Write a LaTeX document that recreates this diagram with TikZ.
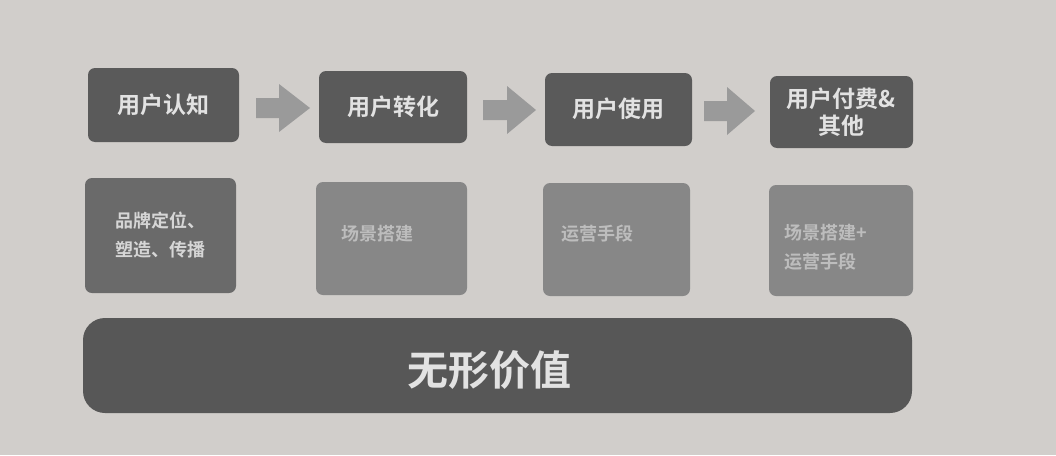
\documentclass[tikz,border=0pt]{standalone}
\usepackage{fontspec}
\setmainfont{Noto Sans CJK SC}[BoldFont={Noto Sans CJK SC Bold}]
\begin{document}
\begin{tikzpicture}[x=1pt,y=-1pt,
  topbox/.style={fill=topc,rounded corners=7pt,inner sep=0pt},
  botbox/.style={fill=botc,rounded corners=7pt,inner sep=0pt},
  toptext/.style={text=toptxt,font=\fontsize{23}{27}\selectfont\bfseries,align=center},
  bottext/.style={text=bottxt,font=\fontsize{18}{29}\selectfont\bfseries,align=left,anchor=west},
  blockarr/.style={fill=arrc}]
\definecolor{bgc}{HTML}{D1CECB}
\definecolor{topc}{HTML}{5A5A5A}
\definecolor{botc}{HTML}{878787}
\definecolor{botd}{HTML}{6A6A6A}
\definecolor{arrc}{HTML}{9A9A9A}
\definecolor{barc}{HTML}{575757}
\definecolor{toptxt}{HTML}{E2E2E2}
\definecolor{bottxt}{HTML}{BDBDBD}
\useasboundingbox (0,0) rectangle (1056,455);
\fill[bgc] (0,0) rectangle (1056,455);
% top boxes
\fill[topbox] (88,68) rectangle (239,142);
\node[toptext] (t1) at (163,105) {用户认知};
\fill[topbox] (319,71) rectangle (467,143);
\node[toptext] (t2) at (393,107) {用户转化};
\fill[topbox] (545,73) rectangle (692,146);
\node[toptext] (t3) at (618,109) {用户使用};
\fill[topbox] (770,76) rectangle (913,148);
\node[toptext] (t4) at (841,112) {用户付费\&\\其他};
% arrows
\newcommand{\blockarrow}[4]{%
  \fill[blockarr] (#1,#4-10) -- (#2,#4-10) -- (#2,#4-24) -- (#3,#4) -- (#2,#4+24) -- (#2,#4+10) -- (#1,#4+10) -- cycle;}
\blockarrow{256}{279}{310}{108}
\blockarrow{483}{507}{536}{110}
\blockarrow{704}{727}{755}{111}
% bottom boxes
\fill[botbox,fill=botd] (85,178) rectangle (236,293);
\node[bottext,text=toptxt!90!botd] (b1) at (112,235) {品牌定位、\\塑造、传播};
\fill[botbox] (316,182) rectangle (467,295);
\node[bottext] (b2) at (338,234) {场景搭建};
\fill[botbox] (543,183) rectangle (690,296);
\node[bottext] (b3) at (558,234) {运营手段};
\fill[botbox] (769,185) rectangle (913,296);
\node[bottext] (b4) at (781,247) {场景搭建+\\运营手段};
% bar
\fill[barc,rounded corners=22pt] (83,318) rectangle (912,413);
\node[text=toptxt,font=\fontsize{41}{45}\selectfont\bfseries] (v) at (489,370) {无形价值};
\end{tikzpicture}
\end{document}
